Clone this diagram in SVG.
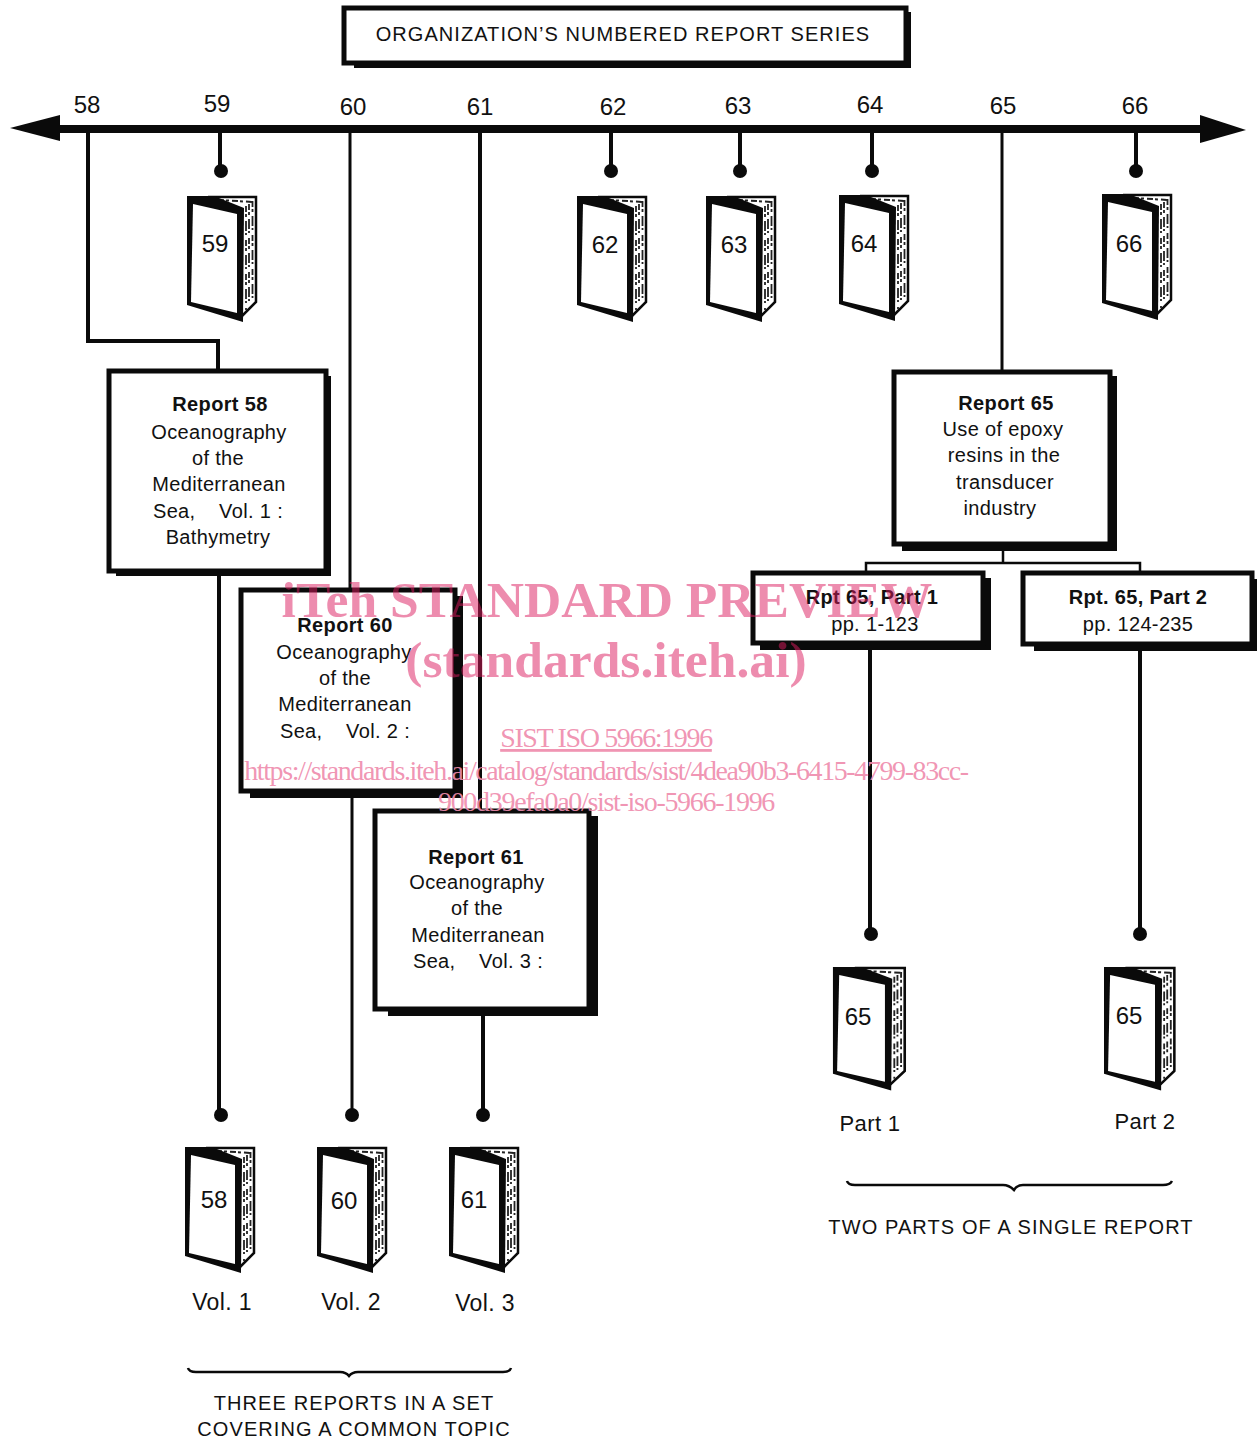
<svg xmlns="http://www.w3.org/2000/svg" width="1259" height="1441" viewBox="0 0 1259 1441">
<style>
text{font-family:"Liberation Sans",Arial,sans-serif;fill:#111;text-anchor:middle;font-size:20px;letter-spacing:.35px}
.b{font-weight:bold}
.n{font-size:24px;letter-spacing:0}
.c{font-size:20px;letter-spacing:1.1px}
.l{fill:none;stroke:#0a0a0a;stroke-width:4}
.t{fill:none;stroke:#0a0a0a;stroke-width:3}
.box{fill:#fff;stroke:#0a0a0a;stroke-width:5}
.sh{fill:#0a0a0a}
.d{fill:#0a0a0a}
.w{font-family:"Liberation Serif","Times New Roman",serif;letter-spacing:0}
.wb{fill:#dc1a5e;fill-opacity:.5;font-size:51.6px;font-weight:bold}
.ws{fill:#ef8cad;fill-opacity:.92;font-size:28px}
</style>
<defs>
<g id="book">
<path d="M20 -1H68V104L54 118" fill="#fff" stroke="#0a0a0a" stroke-width="2.5"/>
<path d="M58 8V112M61 6V108M64.500 3V105" fill="none" stroke="#222" stroke-width="1.8" stroke-dasharray="6 2 3 4 10 2 2 5"/>
<path d="M30 2L66 4" fill="none" stroke="#222" stroke-width="2" stroke-dasharray="6 2 3 3"/>
<path d="M-1 -2H26L56 10L55 124L-1 107Z" fill="#0a0a0a"/>
<path d="M5 6L49 16V115L3 104Z" fill="#fff"/>
</g>
</defs>
<rect width="1259" height="1441" fill="#fff"/>

<g id="connectors">
<rect x="60" y="125" width="1142" height="8" fill="#0a0a0a"/>
<path d="M10 128L60 115V141Z" fill="#0a0a0a"/>
<path d="M1246 130L1200 115V143Z" fill="#0a0a0a"/>
<path class="l" d="M88 130V341H218V372"/>
<path class="t" d="M350 130V592"/>
<path class="l" d="M480 130V812"/>
<path class="t" d="M1002 130V372"/>
<path class="l" d="M220 130V170M611 130V170M740 130V170M872 130V170M1136 130V170"/>
<circle class="d" cx="221" cy="171" r="7"/><circle class="d" cx="611" cy="171" r="7"/><circle class="d" cx="740" cy="171" r="7"/><circle class="d" cx="872" cy="171" r="7"/><circle class="d" cx="1136" cy="171" r="7"/>
<path class="l" d="M219 572V1115"/>
<path class="t" d="M352 795V1115"/>
<path class="l" d="M483 1012V1115"/>
<circle class="d" cx="221" cy="1115" r="7"/><circle class="d" cx="352" cy="1115" r="7"/><circle class="d" cx="483" cy="1115" r="7"/>
<path d="M1003 548V563M866 573V563H1140V574" fill="none" stroke="#0a0a0a" stroke-width="2.500"/>
<path class="l" d="M870 648V934M1140 648V934"/>
<circle class="d" cx="871" cy="934" r="7"/><circle class="d" cx="1140" cy="934" r="7"/>
<path d="M188 1368q1 4 8 4H340q6 0 9 4q3-4 9-4H503q7 0 8-4" fill="none" stroke="#0a0a0a" stroke-width="2.500"/>
<path d="M847 1181q1 4 8 4H1003q6 0 11 5q3-5 9-5H1163q7 0 9-4" fill="none" stroke="#0a0a0a" stroke-width="2.500"/>
</g>

<g id="title">
<rect class="sh" x="354" y="12" width="557" height="56"/>
<rect class="box" x="344" y="8" width="562" height="55"/>
<text x="623" y="41" style="font-size:20px;letter-spacing:1.05px">ORGANIZATION’S NUMBERED REPORT SERIES</text>
</g>

<g id="years">
<text class="n" x="87" y="113">58</text><text class="n" x="217" y="112">59</text><text class="n" x="353" y="115">60</text><text class="n" x="480" y="115">61</text><text class="n" x="613" y="115">62</text><text class="n" x="738" y="114">63</text><text class="n" x="870" y="113">64</text><text class="n" x="1003" y="114">65</text><text class="n" x="1135" y="114">66</text>
</g>

<g id="book-59"><use href="#book" x="188" y="198"/><text class="n" x="215" y="252">59</text></g>
<g id="book-62"><use href="#book" x="578" y="198"/><text class="n" x="605" y="253">62</text></g>
<g id="book-63"><use href="#book" x="707" y="198"/><text class="n" x="734" y="253">63</text></g>
<g id="book-64"><use href="#book" x="840" y="197"/><text class="n" x="864" y="252">64</text></g>
<g id="book-66"><use href="#book" x="1103" y="196"/><text class="n" x="1129" y="252">66</text></g>

<g id="report-58">
<rect class="sh" x="116" y="376" width="215" height="200"/>
<rect class="box" x="109" y="371" width="217" height="200"/>
<text class="b" x="220" y="411">Report 58</text><text x="219" y="439">Oceanography</text><text x="218" y="465">of the</text><text x="219" y="491">Mediterranean</text><text x="218" y="518" xml:space="preserve">Sea,    Vol. 1 :</text><text x="218" y="544">Bathymetry</text>
</g>
<g id="report-65">
<rect class="sh" x="902" y="376" width="215" height="175"/>
<rect class="box" x="894" y="372" width="216" height="172"/>
<text class="b" x="1006" y="410">Report 65</text><text x="1003" y="436">Use of epoxy</text><text x="1004" y="462">resins in the</text><text x="1005" y="489">transducer</text><text x="1000" y="515">industry</text>
</g>
<g id="report-60">
<rect class="sh" x="250" y="596" width="213" height="202"/>
<rect class="box" x="241" y="590" width="214" height="201"/>
<text class="b" x="345" y="632">Report 60</text><text x="344" y="659">Oceanography</text><text x="345" y="685">of the</text><text x="345" y="711">Mediterranean</text><text x="345" y="738" xml:space="preserve">Sea,    Vol. 2 :</text>
</g>
<g id="report-61">
<rect class="sh" x="388" y="816" width="210" height="200"/>
<rect class="box" x="375" y="811" width="214" height="198"/>
<text class="b" x="476" y="864">Report 61</text><text x="477" y="889">Oceanography</text><text x="477" y="915">of the</text><text x="478" y="942">Mediterranean</text><text x="478" y="968" xml:space="preserve">Sea,    Vol. 3 :</text>
</g>
<g id="part-1">
<rect class="sh" x="760" y="578" width="231" height="72"/>
<rect class="box" x="753" y="573" width="230" height="70"/>
<text class="b" x="872" y="604">Rpt 65, Part 1</text><text x="875" y="631">pp. 1-123</text>
</g>
<g id="part-2">
<rect class="sh" x="1034" y="579" width="223" height="72"/>
<rect class="box" x="1023" y="573" width="229" height="71"/>
<text class="b" x="1138" y="604">Rpt. 65, Part 2</text><text x="1138" y="631">pp. 124-235</text>
</g>

<g id="book-65-1"><use href="#book" transform="translate(834 969) scale(1.04 .98)"/><text class="n" x="858" y="1025">65</text><text style="font-size:22px" x="870" y="1131">Part 1</text></g>
<g id="book-65-2"><use href="#book" transform="translate(1105 969) scale(1.02 .98)"/><text class="n" x="1129" y="1024">65</text><text style="font-size:22px" x="1145" y="1129">Part 2</text></g>
<g id="book-58"><use href="#book" x="186" y="1149"/><text class="n" x="214" y="1208">58</text><text style="font-size:23px" x="222" y="1310">Vol. 1</text></g>
<g id="book-60"><use href="#book" x="318" y="1149"/><text class="n" x="344" y="1209">60</text><text style="font-size:23px" x="351" y="1310">Vol. 2</text></g>
<g id="book-61"><use href="#book" x="450" y="1149"/><text class="n" x="474" y="1208">61</text><text style="font-size:23px" x="485" y="1311">Vol. 3</text></g>

<g id="captions">
<text class="c" x="354" y="1410">THREE REPORTS IN A SET</text>
<text class="c" x="354" y="1436">COVERING A COMMON TOPIC</text>
<text class="c" x="1011" y="1234">TWO PARTS OF A SINGLE REPORT</text>
</g>

<g id="watermark">
<text class="w wb" x="607" y="617">iTeh STANDARD PREVIEW</text>
<text class="w wb" x="606" y="677">(standards.iteh.ai)</text>
<text class="w ws" x="606" y="747" style="letter-spacing:-1.35px" text-decoration="underline">SIST ISO 5966:1996</text>
<text class="w ws" x="606" y="780" style="letter-spacing:-1.4px">https://standards.iteh.ai/catalog/standards/sist/4dea90b3-6415-4799-83cc-</text>
<text class="w ws" x="606" y="811" style="letter-spacing:-1.3px">900d39efa0a0/sist-iso-5966-1996</text>
</g>
</svg>
